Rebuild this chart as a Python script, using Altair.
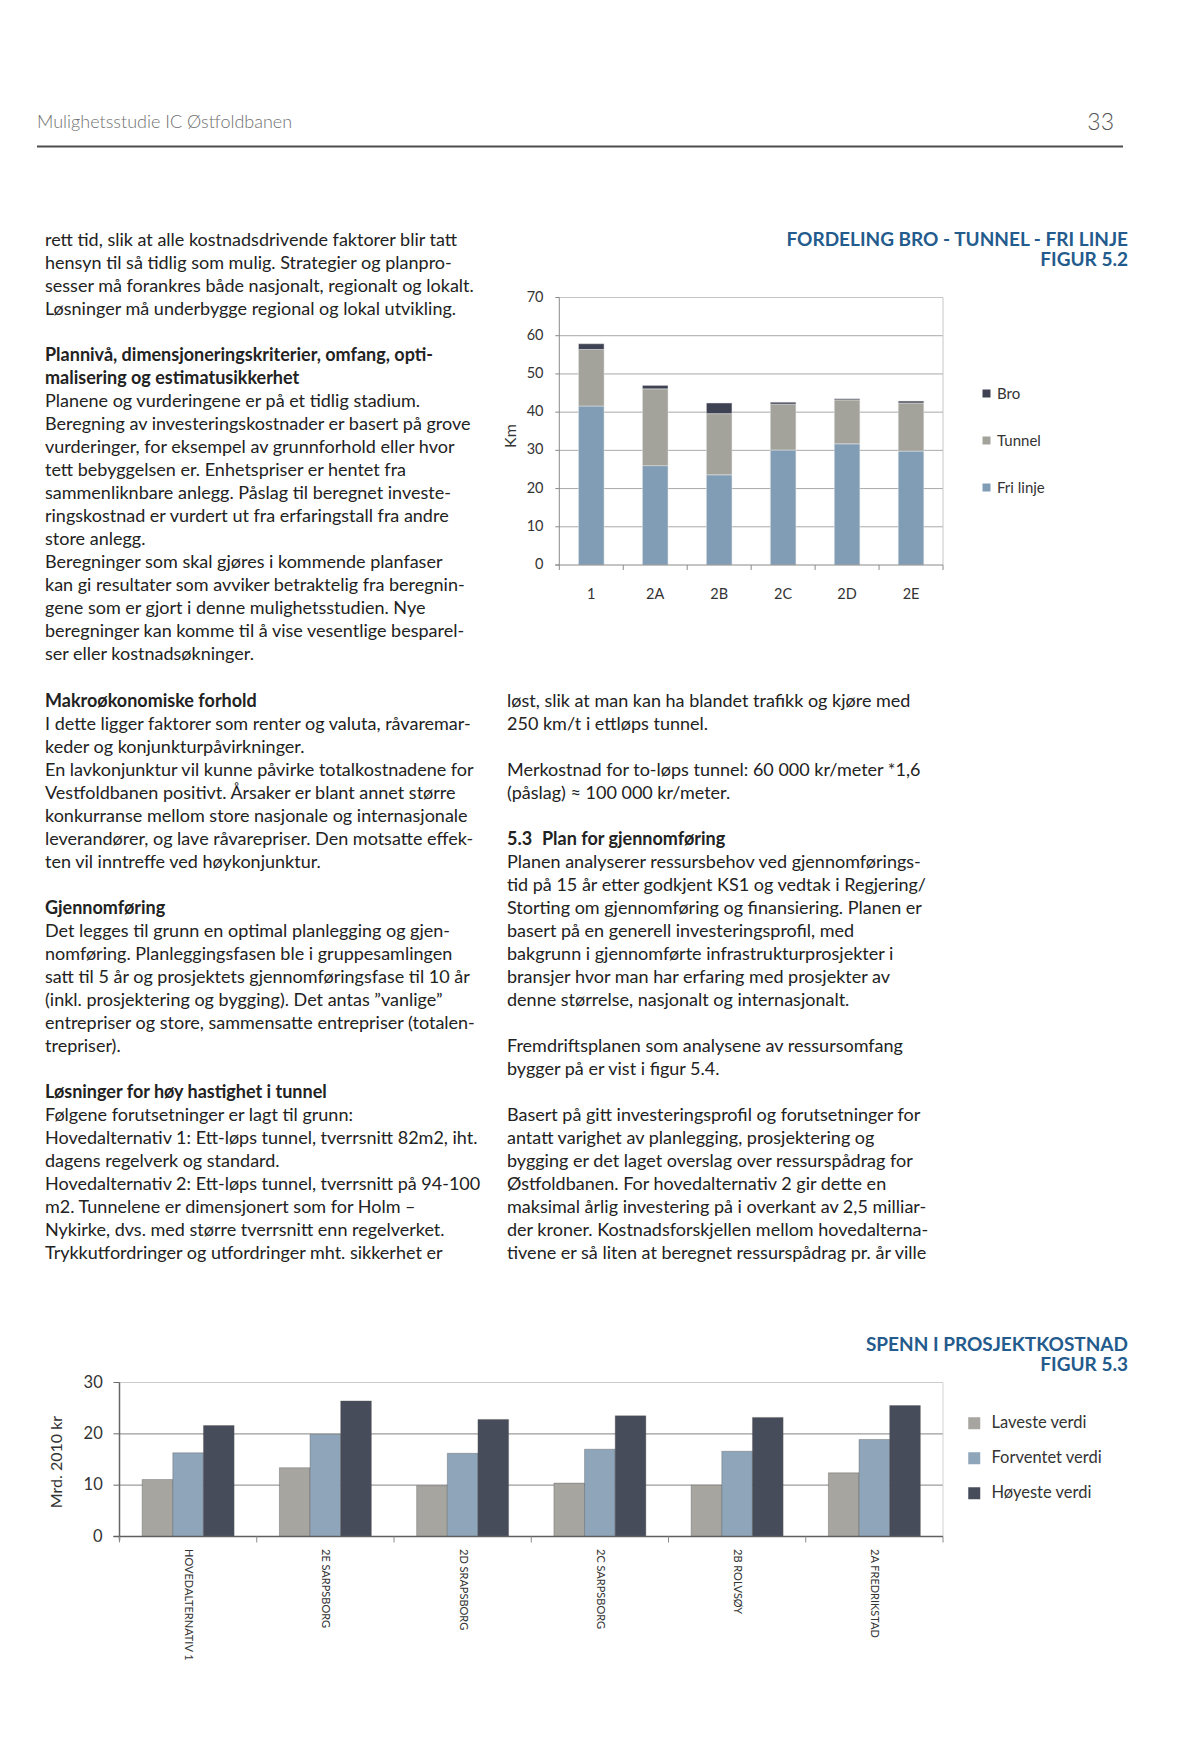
import altair as alt
import pandas as pd

# ---------------- page text ----------------
header_title = "Mulighetsstudie IC Østfoldbanen"
page_number = "33"

col_top_lines = [
    "rett tid, slik at alle kostnadsdrivende faktorer blir tatt",
    "hensyn til så tidlig som mulig. Strategier og planpro-",
    "sesser må forankres både nasjonalt, regionalt og lokalt.",
    "Løsninger må underbygge regional og lokal utvikling.",
    "",
    "Plannivå, dimensjoneringskriterier, omfang, opti-",
    "malisering og estimatusikkerhet",
    "Planene og vurderingene er på et tidlig stadium.",
    "Beregning av investeringskostnader er basert på grove",
    "vurderinger, for eksempel av grunnforhold eller hvor",
    "tett bebyggelsen er. Enhetspriser er hentet fra",
    "sammenliknbare anlegg. Påslag til beregnet investe-",
    "ringskostnad er vurdert ut fra erfaringstall fra andre",
    "store anlegg.",
    "Beregninger som skal gjøres i kommende planfaser",
    "kan gi resultater som avviker betraktelig fra beregnin-",
    "gene som er gjort i denne mulighetsstudien. Nye",
    "beregninger kan komme til å vise vesentlige besparel-",
    "ser eller kostnadsøkninger.",
]
col_top_bold = [0, 0, 0, 0, 0, 1, 1, 0, 0, 0, 0, 0, 0, 0, 0, 0, 0, 0, 0]

col_left_lines = [
    "Makroøkonomiske forhold",
    "I dette ligger faktorer som renter og valuta, råvaremar-",
    "keder og konjunkturpåvirkninger.",
    "En lavkonjunktur vil kunne påvirke totalkostnadene for",
    "Vestfoldbanen positivt. Årsaker er blant annet større",
    "konkurranse mellom store nasjonale og internasjonale",
    "leverandører, og lave råvarepriser. Den motsatte effek-",
    "ten vil inntreffe ved høykonjunktur.",
    "",
    "Gjennomføring",
    "Det legges til grunn en optimal planlegging og gjen-",
    "nomføring. Planleggingsfasen ble i gruppesamlingen",
    "satt til 5 år og prosjektets gjennomføringsfase til 10 år",
    "(inkl. prosjektering og bygging). Det antas ”vanlige”",
    "entrepriser og store, sammensatte entrepriser (totalen-",
    "trepriser).",
    "",
    "Løsninger for høy hastighet i tunnel",
    "Følgene forutsetninger er lagt til grunn:",
    "Hovedalternativ 1: Ett-løps tunnel, tverrsnitt 82m2, iht.",
    "dagens regelverk og standard.",
    "Hovedalternativ 2: Ett-løps tunnel, tverrsnitt på 94-100",
    "m2. Tunnelene er dimensjonert som for Holm –",
    "Nykirke, dvs. med større tverrsnitt enn regelverket.",
    "Trykkutfordringer og utfordringer mht. sikkerhet er",
]
col_left_bold = [1, 0, 0, 0, 0, 0, 0, 0, 0, 1, 0, 0, 0, 0, 0, 0, 0, 1, 0, 0, 0, 0, 0, 0, 0]

col_right_lines = [
    "løst, slik at man kan ha blandet trafikk og kjøre med",
    "250 km/t i ettløps tunnel.",
    "",
    "Merkostnad for to-løps tunnel: 60 000 kr/meter *1,6",
    "(påslag) ≈ 100 000 kr/meter.",
    "",
    "5.3",
    "Planen analyserer ressursbehov ved gjennomførings-",
    "tid på 15 år etter godkjent KS1 og vedtak i Regjering/",
    "Storting om gjennomføring og finansiering. Planen er",
    "basert på en generell investeringsprofil, med",
    "bakgrunn i gjennomførte infrastrukturprosjekter i",
    "bransjer hvor man har erfaring med prosjekter av",
    "denne størrelse, nasjonalt og internasjonalt.",
    "",
    "Fremdriftsplanen som analysene av ressursomfang",
    "bygger på er vist i figur 5.4.",
    "",
    "Basert på gitt investeringsprofil og forutsetninger for",
    "antatt varighet av planlegging, prosjektering og",
    "bygging er det laget overslag over ressurspådrag for",
    "Østfoldbanen. For hovedalternativ 2 gir dette en",
    "maksimal årlig investering på i overkant av 2,5 milliar-",
    "der kroner. Kostnadsforskjellen mellom hovedalterna-",
    "tivene er så liten at beregnet ressurspådrag pr. år ville",
]
col_right_bold = [0, 0, 0, 0, 0, 0, 1, 0, 0, 0, 0, 0, 0, 0, 0, 0, 0, 0, 0, 0, 0, 0, 0, 0, 0]
section_heading = "Plan for gjennomføring"
section_heading_line = 6

# ---------------- figure 5.2 ----------------
fig52_title = ["FORDELING BRO - TUNNEL - FRI LINJE", "FIGUR 5.2"]
alt52 = ["1", "2A", "2B", "2C", "2D", "2E"]
fri_linje = [41.6, 26.0, 23.6, 30.1, 31.7, 29.8]
tunnel = [14.8, 20.1, 16.0, 12.0, 11.5, 12.6]
bro = [1.5, 0.9, 2.8, 0.5, 0.3, 0.5]
types52 = ["Bro", "Tunnel", "Fri linje"]
colors52 = ["#3e4252", "#a3a39b", "#819db6"]
ticks52 = [0, 10, 20, 30, 40, 50, 60, 70]
ytitle52 = "Km"

# ---------------- figure 5.3 ----------------
fig53_title = ["SPENN I PROSJEKTKOSTNAD", "FIGUR 5.3"]
alt53 = ["HOVEDALTERNATIV 1", "2E SARPSBORG", "2D SRAPSBORG", "2C SARPSBORG",
         "2B ROLVSØY", "2A FREDRIKSTAD"]
laveste = [11.1, 13.4, 9.9, 10.4, 10.0, 12.4]
forventet = [16.3, 19.9, 16.2, 17.0, 16.6, 18.9]
hoyeste = [21.6, 26.4, 22.8, 23.5, 23.2, 25.5]
series53 = ["Laveste verdi", "Forventet verdi", "Høyeste verdi"]
colors53 = ["#a6a59f", "#8ea5ba", "#474c5b"]
ticks53 = [0, 10, 20, 30]
ytitle53 = "Mrd. 2010 kr"

# ---------------- helpers ----------------
FONT = "Lato"
TXT = "#222222"
AX = "#333333"
TITLE = "#245b8d"
BODY = 18


def P(v):
    return v - 8


def dummy():
    return alt.Data(values=[{"k": 0}])


def label(text, x, y, size, weight="normal", color=TXT, align="left",
          baseline="alphabetic", angle=0, lh=18):
    return alt.Chart(dummy()).mark_text(
        text=text, align=align, baseline=baseline, font=FONT, fontSize=size,
        fontWeight=weight, color=color, angle=angle, lineHeight=lh,
    ).encode(x=alt.value(P(x)), y=alt.value(P(y)))


def hline(x1, x2, y, color, w=1):
    return alt.Chart(dummy()).mark_rule(color=color, strokeWidth=w).encode(
        x=alt.value(P(x1)), x2=alt.value(P(x2)), y=alt.value(P(y)))


def vline(x, y1, y2, color, w=1):
    return alt.Chart(dummy()).mark_rule(color=color, strokeWidth=w).encode(
        x=alt.value(P(x)), y=alt.value(P(y1)), y2=alt.value(P(y2)))


def text_column(lines, bold, x, y_first, size=BODY, lh=23):
    df = pd.DataFrame({"i": list(range(len(lines))), "t": lines, "b": bold})
    ys = alt.Scale(domain=[0, 1], range=[P(y_first), P(y_first + lh)], nice=False, zero=False)
    base = alt.Chart(df).encode(
        x=alt.value(P(x)), y=alt.Y("i:Q", scale=ys, axis=None), text=alt.Text("t:N"))
    reg = base.transform_filter("datum.b == 0 && datum.t != ''").mark_text(
        align="left", baseline="alphabetic", font=FONT, fontSize=size, color=TXT)
    bld = base.transform_filter("datum.b == 1").mark_text(
        align="left", baseline="alphabetic", font=FONT, fontSize=size, fontWeight="bold", color=TXT)
    return [reg, bld], ys


layers = []

# header
layers.append(label(header_title, 37, 127.5, 18, weight=300, color="#707070"))
layers.append(label(page_number, 1114, 130, 23, weight=300, color="#555555", align="right"))
layers.append(hline(37, 1123, 146.5, "#4d4d4d", 2))

# text columns
BASE_TOP = 245.5
BASE_MID = 706.5
t1, _ = text_column(col_top_lines, col_top_bold, 45, BASE_TOP)
t2, _ = text_column(col_left_lines, col_left_bold, 45, BASE_MID)
t3, ys3 = text_column(col_right_lines, col_right_bold, 507, BASE_MID)
layers += t1 + t2 + t3
layers.append(
    alt.Chart(pd.DataFrame({"i": [section_heading_line], "t": [section_heading]})).mark_text(
        align="left", baseline="alphabetic", font=FONT, fontSize=BODY, fontWeight="bold", color=TXT
    ).encode(x=alt.value(P(542)), y=alt.Y("i:Q", scale=ys3, axis=None), text=alt.Text("t:N"))
)

# ---------------- figure 5.2 layers ----------------
L52, R52, T52, B52 = 559.3, 943.0, 297.5, 565.0
rows52 = []
for a, f, t, b in zip(alt52, fri_linje, tunnel, bro):
    rows52.append({"alt": a, "type": "Fri linje", "km": f, "ord": 0})
    rows52.append({"alt": a, "type": "Tunnel", "km": t, "ord": 1})
    rows52.append({"alt": a, "type": "Bro", "km": b, "ord": 2})
df52 = pd.DataFrame(rows52)

X52 = alt.Scale(domain=alt52, range=[P(L52), P(R52)], paddingInner=0.6, paddingOuter=0.3)
Y52 = alt.Scale(domain=[0, 70], range=[P(B52), P(T52)], nice=False, zero=False)
XB52 = alt.Scale(domain=[0, len(alt52)], range=[P(L52), P(R52)], nice=False, zero=False)
boundaries52 = list(range(len(alt52) + 1))

layers.append(label(fig52_title, 1128, 246, 19, weight="bold", color=TITLE, align="right", lh=20))

layers.append(alt.Chart(pd.DataFrame({"v": ticks52[1:-1]})).mark_rule(color="#a9a9a9").encode(
    y=alt.Y("v:Q", scale=Y52, axis=None), x=alt.value(P(L52)), x2=alt.value(P(R52))))
layers.append(alt.Chart(pd.DataFrame({"v": ticks52[-1:]})).mark_rule(color="#c6c6c6").encode(
    y=alt.Y("v:Q", scale=Y52, axis=None), x=alt.value(P(L52)), x2=alt.value(P(R52))))
layers.append(vline(R52, T52, B52, "#c6c6c6"))
layers.append(alt.Chart(pd.DataFrame({"v": ticks52})).mark_rule(color="#8a8a8a").encode(
    y=alt.Y("v:Q", scale=Y52, axis=None), x=alt.value(P(L52 - 4)), x2=alt.value(P(L52))))
layers.append(alt.Chart(pd.DataFrame({"v": ticks52})).mark_text(
    align="right", baseline="middle", font=FONT, fontSize=14.5, color=AX).encode(
    y=alt.Y("v:Q", scale=Y52, axis=None), x=alt.value(P(543.5)), text=alt.Text("v:Q", format="d")))

layers.append(alt.Chart(df52).mark_bar(stroke="#e6e6e6", strokeWidth=0.5).encode(
    x=alt.X("alt:N", sort=alt52, scale=X52, axis=None),
    y=alt.Y("km:Q", stack="zero", scale=Y52, axis=None),
    color=alt.Color("type:N", sort=types52,
                    scale=alt.Scale(domain=types52, range=colors52),
                    legend=alt.Legend(title=None, orient="none", legendX=P(979), legendY=P(386),
                                      direction="vertical", symbolType="square", symbolSize=64,
                                      symbolStrokeWidth=0, labelFont=FONT, labelFontSize=15,
                                      labelColor=AX, rowPadding=31, padding=0, labelOffset=3)),
    order=alt.Order("ord:Q", sort="ascending"),
))
layers.append(vline(L52, T52, B52, "#8a8a8a"))
layers.append(hline(L52 - 4, R52, B52, "#8a8a8a"))
layers.append(alt.Chart(pd.DataFrame({"b": boundaries52})).mark_rule(color="#8a8a8a").encode(
    x=alt.X("b:Q", scale=XB52, axis=None), y=alt.value(P(B52)), y2=alt.value(P(B52 + 5))))
layers.append(alt.Chart(pd.DataFrame({"alt": alt52})).mark_text(
    align="center", baseline="middle", font=FONT, fontSize=14.5, color=AX).encode(
    x=alt.X("alt:N", sort=alt52, scale=X52, axis=None), y=alt.value(P(595)), text=alt.Text("alt:N")))
layers.append(label(ytitle52, 510.7, 436, 16, color=AX, align="center", baseline="middle", angle=270))

# ---------------- figure 5.3 layers ----------------
L53, R53, T53, B53 = 119.5, 943.0, 1382.5, 1536.5
rows53 = []
for a, lo, fo, hi in zip(alt53, laveste, forventet, hoyeste):
    rows53.append({"alt": a, "series": series53[0], "val": lo})
    rows53.append({"alt": a, "series": series53[1], "val": fo})
    rows53.append({"alt": a, "series": series53[2], "val": hi})
df53 = pd.DataFrame(rows53)

X53 = alt.Scale(domain=alt53, range=[P(L53), P(R53)], paddingInner=0.33, paddingOuter=0.165)
Y53 = alt.Scale(domain=[0, 30], range=[P(B53), P(T53)], nice=False, zero=False)
XB53 = alt.Scale(domain=[0, len(alt53)], range=[P(L53), P(R53)], nice=False, zero=False)
boundaries53 = list(range(len(alt53) + 1))

layers.append(label(fig53_title, 1128, 1350.5, 19, weight="bold", color=TITLE, align="right", lh=20))

layers.append(alt.Chart(pd.DataFrame({"v": ticks53[1:-1]})).mark_rule(color="#9c9c9c", strokeWidth=1.2).encode(
    y=alt.Y("v:Q", scale=Y53, axis=None), x=alt.value(P(L53)), x2=alt.value(P(R53))))
layers.append(alt.Chart(pd.DataFrame({"v": ticks53[-1:]})).mark_rule(color="#cccccc").encode(
    y=alt.Y("v:Q", scale=Y53, axis=None), x=alt.value(P(L53)), x2=alt.value(P(R53))))
layers.append(vline(R53, T53, B53, "#d2d2d2"))
layers.append(alt.Chart(pd.DataFrame({"v": ticks53})).mark_rule(color="#6a6a6a").encode(
    y=alt.Y("v:Q", scale=Y53, axis=None), x=alt.value(P(L53 - 6)), x2=alt.value(P(L53))))
layers.append(alt.Chart(pd.DataFrame({"v": ticks53})).mark_text(
    align="right", baseline="middle", font=FONT, fontSize=16.5, color=AX).encode(
    y=alt.Y("v:Q", scale=Y53, axis=None), x=alt.value(P(102.7)), text=alt.Text("v:Q", format="d")))

layers.append(alt.Chart(df53).mark_bar(stroke="#555555", strokeWidth=0.6, strokeOpacity=0.6).encode(
    x=alt.X("alt:N", sort=alt53, scale=X53, axis=None),
    xOffset=alt.XOffset("series:N", sort=series53,
                        scale=alt.Scale(domain=series53, paddingInner=0, paddingOuter=0)),
    y=alt.Y("val:Q", scale=Y53, axis=None),
    color=alt.Color("series:N", sort=series53,
                    scale=alt.Scale(domain=series53, range=colors53),
                    legend=alt.Legend(title=None, orient="none", legendX=P(966), legendY=P(1415),
                                      direction="vertical", symbolType="square", symbolSize=144,
                                      symbolStrokeWidth=0, labelFont=FONT, labelFontSize=16.5,
                                      labelColor=AX, rowPadding=18, padding=0, labelOffset=9)),
))
layers.append(vline(L53, T53, B53 + 4, "#666666", 1.5))
layers.append(hline(L53 - 6, R53, B53, "#5f5f5f", 1.5))
layers.append(alt.Chart(pd.DataFrame({"b": boundaries53})).mark_rule(color="#8a8a8a").encode(
    x=alt.X("b:Q", scale=XB53, axis=None), y=alt.value(P(B53)), y2=alt.value(P(B53 + 6))))
layers.append(alt.Chart(pd.DataFrame({"alt": alt53})).mark_text(
    align="left", baseline="middle", angle=90, font=FONT, fontSize=11, color=AX).encode(
    x=alt.X("alt:N", sort=alt53, scale=X53, axis=None), y=alt.value(P(1549)), text=alt.Text("alt:N")))
layers.append(label(ytitle53, 57, 1462, 16, color=AX, align="center", baseline="middle", angle=270))

chart = alt.layer(*layers).resolve_scale(
    x="independent", y="independent", color="independent"
).properties(
    width=1176, height=1747, autosize=alt.AutoSizeParams(type="none"), padding=0,
    background="white",
).configure_view(strokeWidth=0)

chart.save("out.html", embed_options={"renderer": "svg", "actions": False})
